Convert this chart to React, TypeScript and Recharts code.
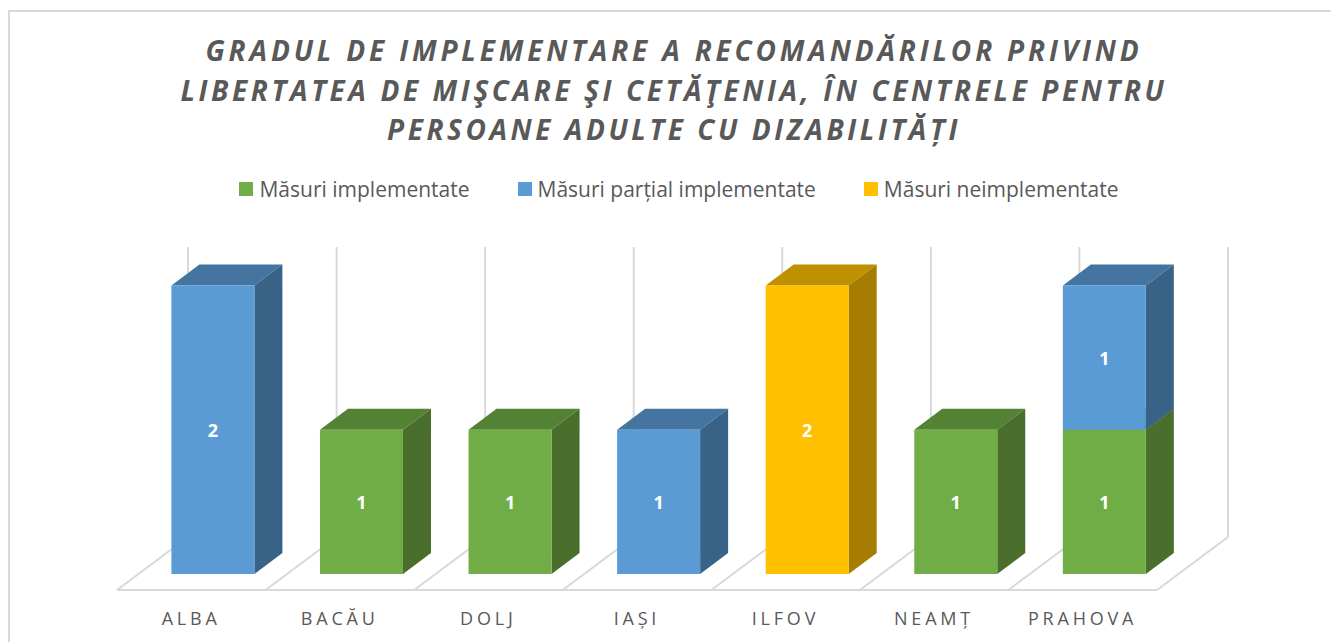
import React from 'react'
import { BarChart, Bar, XAxis, YAxis, CartesianGrid, LabelList, Legend } from 'recharts'

const titleLines = [
  'GRADUL DE IMPLEMENTARE A RECOMANDĂRILOR PRIVIND',
  'LIBERTATEA DE MIŞCARE ŞI CETĂŢENIA, ÎN CENTRELE PENTRU',
  'PERSOANE ADULTE CU DIZABILITĂȚI',
]
const titleSpacing = [3.83, 3.6, 3.55]

const categories = ['ALBA', 'BACĂU', 'DOLJ', 'IAȘI', 'ILFOV', 'NEAMȚ', 'PRAHOVA']
const implemented = [null, 1, 1, null, null, 1, 1]
const partial = [2, null, null, 1, null, null, 1]
const notImplemented = [null, null, null, null, 2, null, null]

const rows = categories.map((name, i) => ({
  name,
  implemented: implemented[i],
  partial: partial[i],
  notImplemented: notImplemented[i],
}))

const FONT = '"Open Sans", sans-serif'
const TEXT = '#595959'
const GRID = '#d9d9d9'

// fake 3d: how far the back of a bar sits from its front face
const DEPTH_X = 28
const DEPTH_Y = 21

const PLOT_LEFT = 138.4
const PLOT_WIDTH = 1040
const PLOT_TOP = 285.5
const PLOT_BOTTOM = 574

const shades: Record<string, { top: string; side: string }> = {
  '#70AD47': { top: '#548235', side: '#4A6F2C' },
  '#5B9BD5': { top: '#4475A0', side: '#386387' },
  '#FFC000': { top: '#BF9000', side: '#A67D00' },
}

const Box3D = (props: any) => {
  const { x, y, width, height, fill } = props
  if (!height || height <= 0) return null
  const { top, side } = shades[fill]
  const r = x + width
  const b = y + height
  return (
    <g>
      <polygon points={`${x},${y} ${x + DEPTH_X},${y - DEPTH_Y} ${r + DEPTH_X},${y - DEPTH_Y} ${r},${y}`} fill={top} />
      <polygon points={`${r},${y} ${r + DEPTH_X},${y - DEPTH_Y} ${r + DEPTH_X},${b - DEPTH_Y} ${r},${b}`} fill={side} />
      <rect x={x} y={y} width={width} height={height} fill={fill} />
    </g>
  )
}

// wall line and floor diagonal for one category boundary
const WallLine = (props: any) => {
  const x = props.x1 - 21.4
  return (
    <g key={props.key}>
      <polyline points={`${x},590 ${x + 71},537 ${x + 71},247`} fill="none" stroke={GRID} strokeWidth={2} />
    </g>
  )
}

const FloorLine = (props: any) => (
  <line key={props.key} x1={PLOT_LEFT - 21.4} x2={PLOT_LEFT - 21.4 + PLOT_WIDTH} y1={590} y2={590} stroke={GRID} strokeWidth={2} />
)

const CategoryTick = (props: any) => (
  <text
    x={props.x - 21.5}
    y={625}
    textAnchor="middle"
    fontFamily={FONT}
    fontSize={18}
    letterSpacing={3.8}
    fill={TEXT}
  >
    {props.payload.value}
  </text>
)

const LegendContent = (props: any) => (
  <div style={{ display: 'flex', justifyContent: 'center', gap: 48, fontFamily: FONT, fontSize: 21, color: TEXT }}>
    {props.payload.map((item: any) => (
      <div key={item.value} style={{ display: 'flex', alignItems: 'center', gap: 6 }}>
        <span style={{ width: 14, height: 14, background: item.color, display: 'block' }} />
        <span>{item.value}</span>
      </div>
    ))}
  </div>
)

const labelStyle = { fill: '#fff', fontFamily: FONT, fontSize: 18, fontWeight: 700 }

export default function App() {
  const band = PLOT_WIDTH / categories.length
  const boundaries = categories.map((_, i) => PLOT_LEFT + band * i).concat(PLOT_LEFT + PLOT_WIDTH)

  return (
    <div style={{ position: 'absolute', left: 0, top: 0, width: 1331, height: 642, overflow: 'hidden', background: '#fff' }}>
      {/* chart frame runs off the right and bottom of the picture */}
      <div style={{ position: 'absolute', left: 8, top: 10, width: 1400, height: 700, border: '2px solid #d9d9d9', boxSizing: 'border-box' }} />

      <div
        style={{
          position: 'absolute',
          left: 0,
          top: 31,
          width: 1348,
          textAlign: 'center',
          fontFamily: FONT,
          fontSize: 28,
          lineHeight: '39.5px',
          fontWeight: 700,
          fontStyle: 'italic',
          color: TEXT,
          whiteSpace: 'nowrap',
        }}
      >
        {titleLines.map((line, i) => (
          <div key={line} style={{ letterSpacing: titleSpacing[i] }}>{line}</div>
        ))}
      </div>

      <div style={{ position: 'absolute', left: 0, top: 0 }}>
        <BarChart
          width={1331}
          height={642}
          data={rows}
          barSize={83}
          margin={{ top: PLOT_TOP, bottom: 0, left: PLOT_LEFT, right: 1331 - PLOT_LEFT - PLOT_WIDTH }}
        >
          <CartesianGrid
            vertical={WallLine}
            horizontal={FloorLine}
            verticalCoordinatesGenerator={() => boundaries}
            horizontalCoordinatesGenerator={() => [PLOT_BOTTOM]}
          />
          <XAxis dataKey="name" height={642 - PLOT_BOTTOM} interval={0} axisLine={false} tickLine={false} tick={CategoryTick} />
          <YAxis hide domain={[0, 2]} />
          <Legend
            itemSorter={null}
            verticalAlign="middle"
            align="center"
            content={LegendContent}
            wrapperStyle={{ position: 'absolute', left: 0, top: 175, width: 1358, bottom: 'auto' }}
          />
          <Bar dataKey="implemented" name="Măsuri implementate" stackId="a" fill="#70AD47" shape={Box3D} isAnimationActive={false}>
            <LabelList dataKey="implemented" position="center" dy={1} style={labelStyle} />
          </Bar>
          <Bar dataKey="partial" name="Măsuri parțial implementate" stackId="a" fill="#5B9BD5" shape={Box3D} isAnimationActive={false}>
            <LabelList dataKey="partial" position="center" dy={1} style={labelStyle} />
          </Bar>
          <Bar dataKey="notImplemented" name="Măsuri neimplementate" stackId="a" fill="#FFC000" shape={Box3D} isAnimationActive={false}>
            <LabelList dataKey="notImplemented" position="center" dy={1} style={labelStyle} />
          </Bar>
        </BarChart>
      </div>
    </div>
  )
}
